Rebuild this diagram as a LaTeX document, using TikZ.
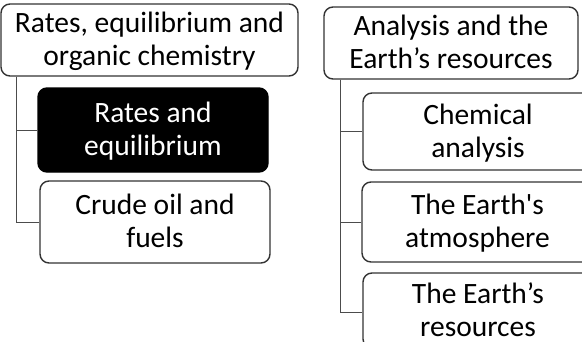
\documentclass[tikz,border=0pt]{standalone}
\usepackage{fontspec}
\setmainfont{Carlito}
\newfontfamily\rawCarlito[Ligatures=TeXOff]{Carlito}
\usepackage{tikz}
\usetikzlibrary{positioning}
\newcommand{\straightQuote}{{\rawCarlito'}}
\tikzset{
  topicBox/.style={draw=black!80, line width=1.4pt, fill=white, rounded corners=9pt,
    inner sep=0pt, align=center, text height=53pt, text depth=2pt,
    font=\fontsize{29.5}{33}\selectfont},
  %% highlighted topic
  topicOn/.style={topicBox, fill=black, draw=black, text=white},
  %% tree connectors
  treeLink/.style={draw=black!70, line width=0.9pt},
}
\begin{document}
\begin{tikzpicture}[x=1pt, y=-1pt]
\useasboundingbox (0,0) rectangle (582,341);
\clip (0,0) rectangle (582,341);

%% Left column
\node[topicBox, minimum width=297pt, minimum height=72pt] (nRatesOrg) at (149.5,40) {Rates, equilibrium and\\organic chemistry};
\node[topicOn,  minimum width=230pt, minimum height=84pt] (nRatesEq)  at (153,130)  {Rates and\\equilibrium};
\node[topicBox, minimum width=230pt, minimum height=82pt] (nCrude)    at (155,222)  {Crude oil and\\fuels};

%% Right column
\node[topicBox, minimum width=254pt, minimum height=72pt] (nAnalysis) at (451,43) {Analysis and the\\Earth’s resources};
\node[topicBox, minimum width=230pt, minimum height=77pt] (nChem)     at (478,131.5) {Chemical\\analysis};
\node[topicBox, minimum width=231pt, minimum height=80pt] (nAtmos)    at (477.5,222) {The Earth\straightQuote s\\atmosphere};
\node[topicBox, minimum width=230pt, minimum height=75pt] (nRes)      at (478,310.5) {The Earth’s\\resources};

%% Connectors
\draw[treeLink] ([xshift=16pt]nRatesOrg.south west) |- (nRatesEq.west);
\draw[treeLink] ([xshift=16pt]nRatesOrg.south west) |- (nCrude.west);
\draw[treeLink] ([xshift=17pt]nAnalysis.south west) |- (nChem.west);
\draw[treeLink] ([xshift=17pt]nAnalysis.south west) |- (nAtmos.west);
\draw[treeLink] ([xshift=17pt]nAnalysis.south west) |- ([yshift=-2pt]nRes.west);

\end{tikzpicture}
\end{document}
